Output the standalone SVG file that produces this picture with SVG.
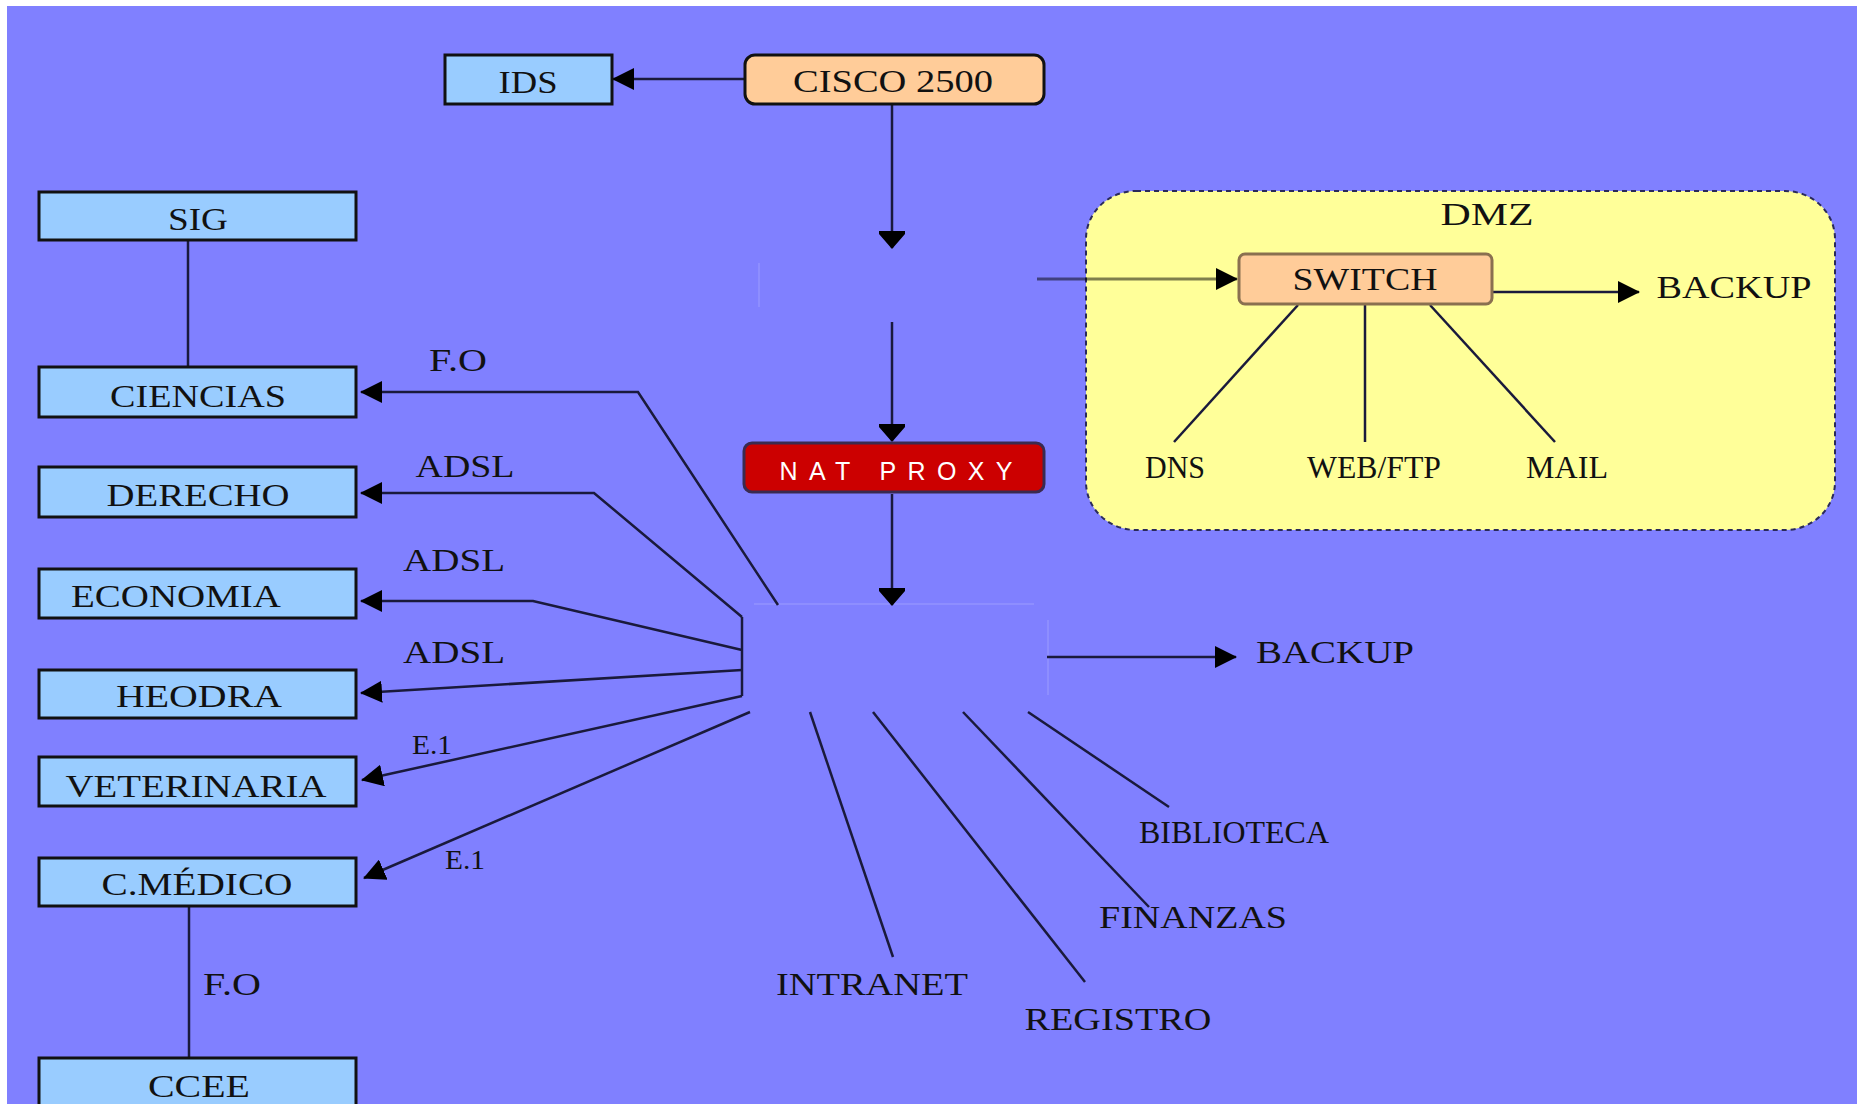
<svg xmlns="http://www.w3.org/2000/svg" width="1860" height="1104" viewBox="0 0 1860 1104">
<defs>
<marker id="ah" viewBox="0 0 22 22" refX="21" refY="11" markerWidth="22" markerHeight="22" markerUnits="userSpaceOnUse" orient="auto">
<path d="M0,0 L22,11 L0,22 z" fill="#000"/>
</marker>
<marker id="ahd" viewBox="0 0 18 28" refX="17" refY="14" markerWidth="18" markerHeight="28" markerUnits="userSpaceOnUse" orient="auto">
<path d="M0,1 L3,1 L3,27 L0,27 z M3,1 L18,14 L3,27 z" fill="#000"/>
</marker>
<style>
.bx{fill:#99CCFF;stroke:#111;stroke-width:3}
.or{fill:#FFCC99;stroke:#111;stroke-width:3}
.t{font-family:"Liberation Serif","Times New Roman",serif;font-size:31px;fill:#111;text-anchor:middle}
.s{font-size:27px}
.ln{fill:none;stroke:#1a1a3c;stroke-width:2.5}
.faint{fill:none;stroke:#8E8EFF;stroke-width:2}
</style>
</defs>
<rect x="0" y="0" width="1860" height="1104" fill="#FFFFFF"/>
<rect x="7" y="6" width="1850" height="1098" fill="#8080FF"/>

<g id="dmz">
<rect x="1086" y="191" width="749" height="339" rx="50" ry="48" fill="#FFFF99" stroke="#2a2a5a" stroke-width="2" stroke-dasharray="5,4"/>
<text class="t" x="1487" y="225" textLength="93" lengthAdjust="spacingAndGlyphs">DMZ</text>
</g>

<g id="placeholders">
<line class="faint" x1="759" y1="263" x2="759" y2="307"/>
<line class="faint" x1="754" y1="604" x2="1034" y2="604"/>
<line class="faint" x1="1048" y1="620" x2="1048" y2="695"/>
</g>

<g id="connectors">
<line class="ln" x1="744" y1="79" x2="613" y2="79" marker-end="url(#ah)"/>
<line class="ln" x1="892" y1="105" x2="892" y2="248" marker-end="url(#ahd)"/>
<line class="ln" x1="892" y1="322" x2="892" y2="441" marker-end="url(#ahd)"/>
<line class="ln" x1="892" y1="494" x2="892" y2="605" marker-end="url(#ahd)"/>
<line x1="1037" y1="279" x2="1237" y2="279" stroke="#000" stroke-opacity="0.5" stroke-width="3" marker-end="url(#ah)"/>
<line class="ln" x1="1493" y1="292" x2="1639" y2="292" marker-end="url(#ah)"/>
<line class="ln" x1="1298" y1="305" x2="1174" y2="442" stroke="#333318"/>
<line class="ln" x1="1365" y1="305" x2="1365" y2="442" stroke="#4a4a30"/>
<line class="ln" x1="1430" y1="305" x2="1555" y2="442" stroke="#333318"/>
<line class="ln" x1="1047" y1="657" x2="1236" y2="657" marker-end="url(#ah)"/>
<line class="ln" x1="188" y1="241" x2="188" y2="366"/>
<polyline class="ln" points="778,605 638,392 361,392" marker-end="url(#ah)"/>
<polyline class="ln" points="742,617 594,493 361,493" marker-end="url(#ah)"/>
<polyline class="ln" points="742,650 533,601 361,601" marker-end="url(#ah)"/>
<polyline class="ln" points="742,670 361,693" marker-end="url(#ah)"/>
<line class="ln" x1="742" y1="617" x2="742" y2="696"/>
<line class="ln" x1="742" y1="696" x2="362" y2="780" marker-end="url(#ah)"/>
<line class="ln" x1="750" y1="712" x2="364" y2="878" marker-end="url(#ah)"/>
<line class="ln" x1="189" y1="906" x2="189" y2="1057"/>
<line class="ln" x1="810" y1="712" x2="893" y2="957"/>
<line class="ln" x1="873" y1="712" x2="1085" y2="982"/>
<line class="ln" x1="963" y1="712" x2="1149" y2="907"/>
<line class="ln" x1="1028" y1="712" x2="1169" y2="807"/>
</g>

<g id="ids"><rect class="bx" x="445" y="55" width="167" height="49"/><text class="t" x="528" y="93" textLength="59" lengthAdjust="spacingAndGlyphs">IDS</text></g>
<g id="cisco"><rect class="or" x="745" y="55" width="299" height="49" rx="10"/><text class="t" x="893" y="92" textLength="200" lengthAdjust="spacingAndGlyphs">CISCO 2500</text></g>
<g id="nat"><rect x="744" y="443" width="300" height="49" rx="8" fill="#CC0000" stroke="#3a2a50" stroke-width="3"/><text x="896" y="480" font-family="'Liberation Sans',Arial,sans-serif" font-size="25" fill="#FFFFFF" text-anchor="middle" textLength="233" lengthAdjust="spacing">NAT PROXY</text></g>
<g id="switch"><rect x="1239" y="254" width="253" height="50" rx="6" fill="#FFCC99" stroke="#8a7050" stroke-width="3"/><text class="t" x="1365" y="290" textLength="145" lengthAdjust="spacingAndGlyphs">SWITCH</text></g>
<g id="backup1"><text class="t" x="1734" y="298" textLength="155" lengthAdjust="spacingAndGlyphs">BACKUP</text></g>
<g id="dns"><text class="t" x="1175" y="478" textLength="60" lengthAdjust="spacingAndGlyphs">DNS</text></g>
<g id="web"><text class="t" x="1374" y="478" textLength="134" lengthAdjust="spacingAndGlyphs">WEB/FTP</text></g>
<g id="mail"><text class="t" x="1567" y="478" textLength="82" lengthAdjust="spacingAndGlyphs">MAIL</text></g>

<g id="sig"><rect class="bx" x="39" y="192" width="317" height="48"/><text class="t" x="198" y="230" textLength="60" lengthAdjust="spacingAndGlyphs">SIG</text></g>
<g id="ciencias"><rect class="bx" x="39" y="367" width="317" height="50"/><text class="t" x="198" y="407" textLength="176" lengthAdjust="spacingAndGlyphs">CIENCIAS</text></g>
<g id="derecho"><rect class="bx" x="39" y="467" width="317" height="50"/><text class="t" x="198" y="506" textLength="183" lengthAdjust="spacingAndGlyphs">DERECHO</text></g>
<g id="economia"><rect class="bx" x="39" y="569" width="317" height="49"/><text class="t" x="176" y="607" textLength="210" lengthAdjust="spacingAndGlyphs">ECONOMIA</text></g>
<g id="heodra"><rect class="bx" x="39" y="670" width="317" height="48"/><text class="t" x="199" y="707" textLength="166" lengthAdjust="spacingAndGlyphs">HEODRA</text></g>
<g id="veterinaria"><rect class="bx" x="39" y="757" width="317" height="49"/><text class="t" x="196" y="797" textLength="261" lengthAdjust="spacingAndGlyphs">VETERINARIA</text></g>
<g id="cmedico"><rect class="bx" x="39" y="858" width="317" height="48"/><text class="t" x="197" y="895" textLength="191" lengthAdjust="spacingAndGlyphs">C.MÉDICO</text></g>
<g id="ccee"><rect class="bx" x="39" y="1058" width="317" height="60"/><text class="t" x="199" y="1097" textLength="102" lengthAdjust="spacingAndGlyphs">CCEE</text></g>

<g id="labels">
<text class="t" x="458" y="371" textLength="58" lengthAdjust="spacingAndGlyphs">F.O</text>
<text class="t" x="465" y="477" textLength="99" lengthAdjust="spacingAndGlyphs">ADSL</text>
<text class="t" x="454" y="571" textLength="102" lengthAdjust="spacingAndGlyphs">ADSL</text>
<text class="t" x="454" y="663" textLength="102" lengthAdjust="spacingAndGlyphs">ADSL</text>
<text class="t s" x="432" y="754" textLength="40" lengthAdjust="spacingAndGlyphs">E.1</text>
<text class="t s" x="465" y="869" textLength="40" lengthAdjust="spacingAndGlyphs">E.1</text>
<text class="t" x="232" y="995" textLength="58" lengthAdjust="spacingAndGlyphs">F.O</text>
</g>

<g id="backup2"><text class="t" x="1335" y="663" textLength="158" lengthAdjust="spacingAndGlyphs">BACKUP</text></g>
<g id="biblioteca"><text class="t" x="1234" y="843" textLength="190" lengthAdjust="spacingAndGlyphs">BIBLIOTECA</text></g>
<g id="finanzas"><text class="t" x="1193" y="928" textLength="188" lengthAdjust="spacingAndGlyphs">FINANZAS</text></g>
<g id="intranet"><text class="t" x="872" y="995" textLength="192" lengthAdjust="spacingAndGlyphs">INTRANET</text></g>
<g id="registro"><text class="t" x="1118" y="1030" textLength="187" lengthAdjust="spacingAndGlyphs">REGISTRO</text></g>
</svg>
